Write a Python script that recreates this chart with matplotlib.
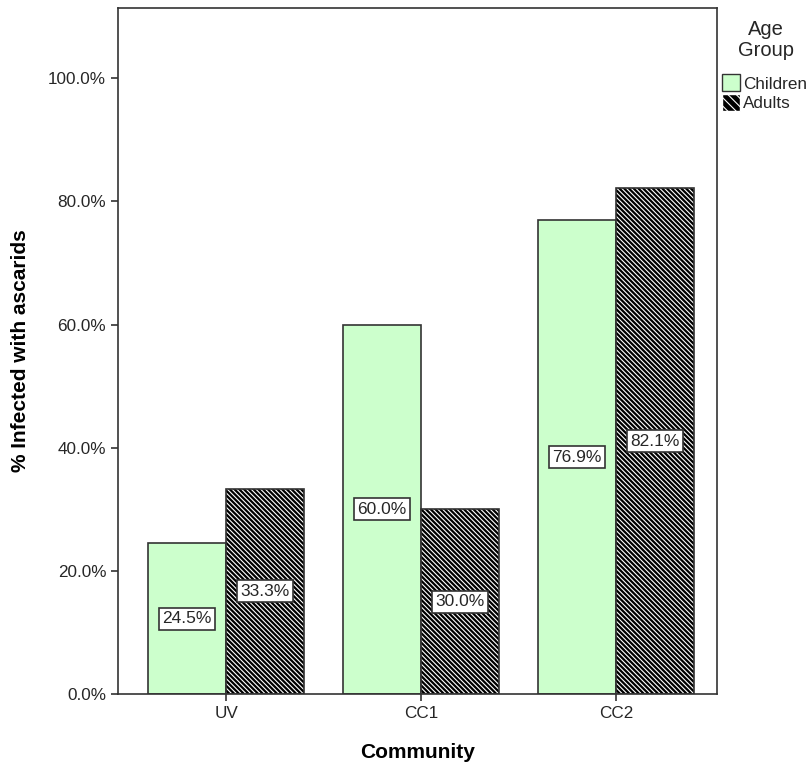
import matplotlib.pyplot as plt
import numpy as np
from matplotlib.patches import Patch

plt.rcParams['font.family'] = ['Liberation Sans', 'DejaVu Sans']

communities = ["UV", "CC1", "CC2"]
children = [24.5, 60.0, 76.9]
adults = [33.3, 30.0, 82.1]

fig = plt.figure(figsize=(8.11, 7.67), dpi=100)
ax = fig.add_axes([118 / 811, 73 / 767, (717 - 118) / 811, (694 - 8) / 767])

x = np.arange(len(communities))
w = 0.4
edge = '#333333'
txt = '#262626'
hatch = '\\' * 7

ax.bar(x - w / 2, children, w, color='#ccffcc', edgecolor=edge, linewidth=1.2, zorder=2)
# hatched adults: black fill with white diagonal lines, then an outline on top
plt.rcParams['hatch.linewidth'] = 0.8
ax.bar(x + w / 2, adults, w, color='black', edgecolor='white', hatch=hatch,
       linewidth=0, zorder=2)
ax.bar(x + w / 2, adults, w, fill=False, edgecolor=edge, linewidth=1.2, zorder=3)

box = dict(boxstyle='square,pad=0.2', facecolor='white', edgecolor=edge, linewidth=1.2)
for xi, v in zip(x - w / 2, children):
    ax.text(xi, v / 2, f"{v:.1f}%", ha='center', va='center', fontsize=12.5,
            color=txt, bbox=box, zorder=4)
for xi, v in zip(x + w / 2, adults):
    ax.text(xi, v / 2, f"{v:.1f}%", ha='center', va='center', fontsize=12.5,
            color=txt, bbox=box, zorder=4)

ax.set_xlim(-0.554, 2.518)
ax.set_ylim(0, 111.4)
ax.set_xticks(x)
ax.set_xticklabels(communities)
ax.set_yticks([0, 20, 40, 60, 80, 100])
ax.set_yticklabels([f"{t:.1f}%" for t in [0, 20, 40, 60, 80, 100]])
ax.tick_params(axis='both', labelsize=12.3, color=edge, length=5, width=1.2,
               labelcolor=txt)
for s in ax.spines.values():
    s.set_color(edge)
    s.set_linewidth(1.2)

ax.set_xlabel("Community", fontsize=15, fontweight='bold', labelpad=16, color='black')
ax.set_ylabel("% Infected with ascarids", fontsize=15, fontweight='bold', labelpad=13,
              color='black')

# legend title drawn separately so the gap to the entries can be matched
fig.text(766 / 811, 1 - 40 / 767, "Age\nGroup", ha='center', va='center',
         multialignment='center', fontsize=14.5, color=txt, linespacing=1.1)
handles = [Patch(facecolor='#ccffcc', edgecolor=edge, label='Children'),
           Patch(facecolor='black', edgecolor='white', hatch='\\' * 4, label='Adults')]
leg = fig.legend(handles=handles, loc='upper left',
                 bbox_to_anchor=(719 / 811, 1 - 71 / 767), frameon=False,
                 fontsize=12.3, handlelength=1.0, handleheight=1.15,
                 handletextpad=0.2, borderaxespad=0, labelspacing=0.12, borderpad=0.2)
for t in leg.get_texts():
    t.set_color(txt)

fig.savefig("out.png", dpi=100)
